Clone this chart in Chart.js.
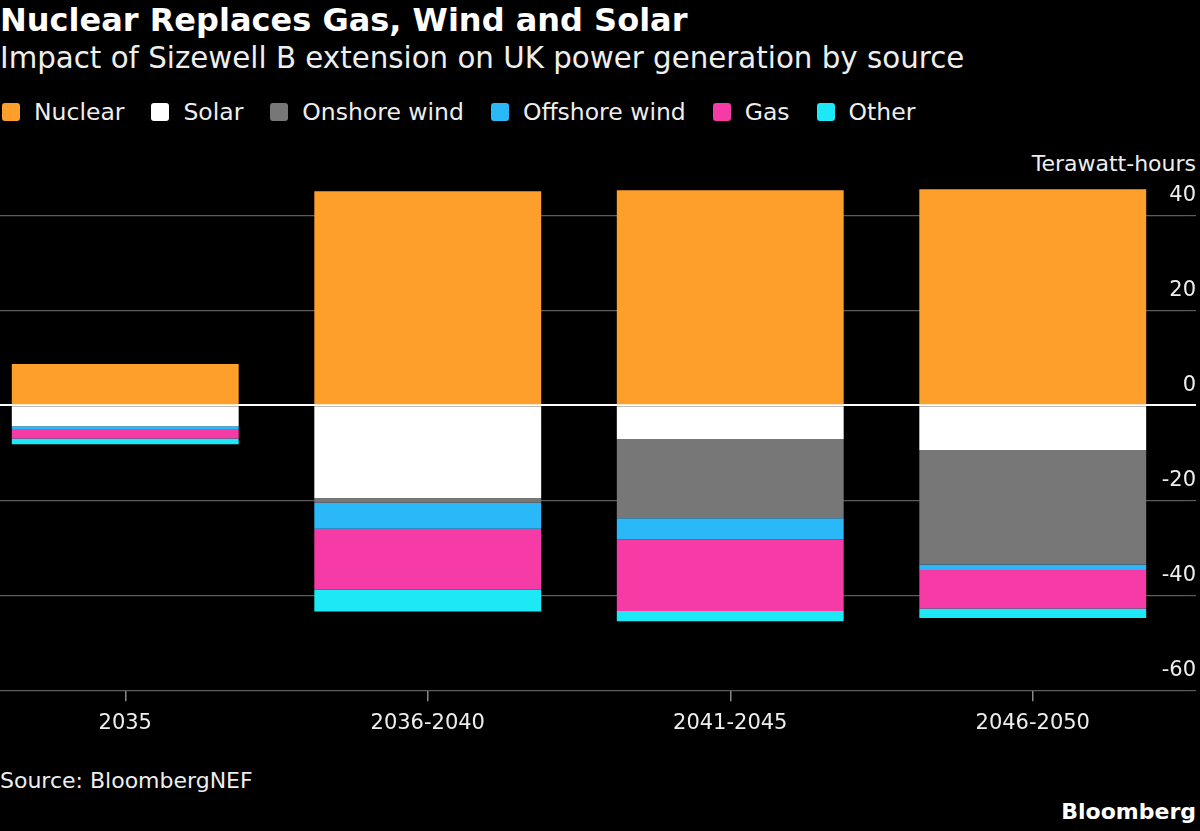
<!DOCTYPE html>
<html>
<head>
<meta charset="utf-8">
<script src="https://cdn.jsdelivr.net/npm/chart.js@4/dist/chart.umd.min.js"></script>
<style>
  html, body { margin: 0; padding: 0; background: #000; overflow: hidden; }
  body { width: 1200px; height: 831px; position: relative; font-family: "DejaVu Sans", sans-serif; color: #fff; }
  #title { position: absolute; left: 0; top: 1px; font-size: 32px; font-weight: bold; white-space: nowrap; }
  #subtitle { position: absolute; left: 0; top: 41px; font-size: 29.3px; color: #eee; white-space: nowrap; }
  #legend { position: absolute; left: 2px; top: 98px; font-size: 23.5px; color: #eee; white-space: nowrap; }
  #legend span.item { display: inline-block; margin-right: 27px; }
  #legend span.box { display: inline-block; width: 18px; height: 18px; border-radius: 3px; margin-right: 14px; vertical-align: -1px; }
  #unit { position: absolute; right: 4px; top: 151px; font-size: 22px; color: #eee; }
  #source { position: absolute; left: 0; top: 768px; font-size: 22px; color: #eee; }
  #brand { position: absolute; right: 4px; top: 799px; font-size: 22px; font-weight: bold; }
  #wrap { position: absolute; left: -26px; top: 0; width: 1246px; height: 831px; }
</style>
</head>
<body>
<div id="title">Nuclear Replaces Gas, Wind and Solar</div>
<div id="subtitle">Impact of Sizewell B extension on UK power generation by source</div>
<div id="legend"></div>
<div id="unit">Terawatt-hours</div>
<div id="source">Source: BloombergNEF</div>
<div id="brand">Bloomberg</div>
<div id="wrap"><canvas id="chart"></canvas></div>
<script>
var periods = ["2035", "2036-2040", "2041-2045", "2046-2050"];
var seriesNames = ["Nuclear", "Solar", "Onshore wind", "Offshore wind", "Gas", "Other"];
var seriesColors = ["#ff9f2b", "#ffffff", "#777777", "#2bb8f9", "#f63aa6", "#1de8f5"];

var nuclear = [8.7, 45.1, 45.3, 45.5];
var solar = [-4.4, -19.5, -7.1, -9.4];
var onshoreWind = [0, -1.0, -16.7, -24.1];
var offshoreWind = [-0.6, -5.5, -4.4, -1.2];
var gas = [-2.0, -12.8, -15.1, -8.1];
var other = [-1.2, -4.6, -2.2, -2.0];

var yTicks = [-60, -40, -20, 0, 20, 40];

var seriesValues = [nuclear, solar, onshoreWind, offshoreWind, gas, other];

// legend in html, built from the series lists
var legendHtml = "";
for (var i = 0; i < seriesNames.length; i++) {
  legendHtml += '<span class="item"><span class="box" style="background:' + seriesColors[i] + '"></span>' + seriesNames[i] + '</span>';
}
document.getElementById("legend").innerHTML = legendHtml;

var datasets = [];
for (var j = 0; j < seriesNames.length; j++) {
  datasets.push({
    label: seriesNames[j],
    data: seriesValues[j],
    backgroundColor: seriesColors[j],
    borderWidth: 0,
    barPercentage: 0.75,
    categoryPercentage: 1.0
  });
}

var ctx = document.getElementById("chart").getContext("2d");
var chart = new Chart(ctx, {
  type: "bar",
  data: { labels: periods, datasets: datasets },
  options: {
    responsive: true,
    maintainAspectRatio: false,
    animation: false,
    layout: { padding: { top: 168, bottom: 84.6, left: 0, right: 0 } },
    plugins: {
      legend: { display: false },
      tooltip: { enabled: false }
    },
    scales: {
      x: {
        stacked: true,
        grid: {
          display: true,
          offset: false,
          drawOnChartArea: false,
          drawTicks: true,
          tickLength: 11,
          color: "#8a8a8a",
          lineWidth: 1.5
        },
        border: { display: false },
        ticks: {
          color: "#eeeeee",
          padding: 10,
          font: { family: "DejaVu Sans", size: 21 }
        }
      },
      y: {
        stacked: true,
        position: "right",
        min: -60,
        max: 50,
        afterBuildTicks: function (scale) {
          scale.ticks = yTicks.map(function (v) { return { value: v }; });
        },
        grid: {
          drawTicks: true,
          tickLength: 12,
          color: function (c) { return c.tick && c.tick.value === 0 ? "#ffffff" : "#5c5c5c"; },
          lineWidth: function (c) { return c.tick && c.tick.value === 0 ? 2 : 1.2; }
        },
        border: { display: false },
        ticks: {
          mirror: true,
          crossAlign: "near",
          padding: 12,
          labelOffset: -20,
          color: "#eeeeee",
          font: { family: "DejaVu Sans", size: 21 }
        }
      }
    }
  }
});
</script>
</body>
</html>
